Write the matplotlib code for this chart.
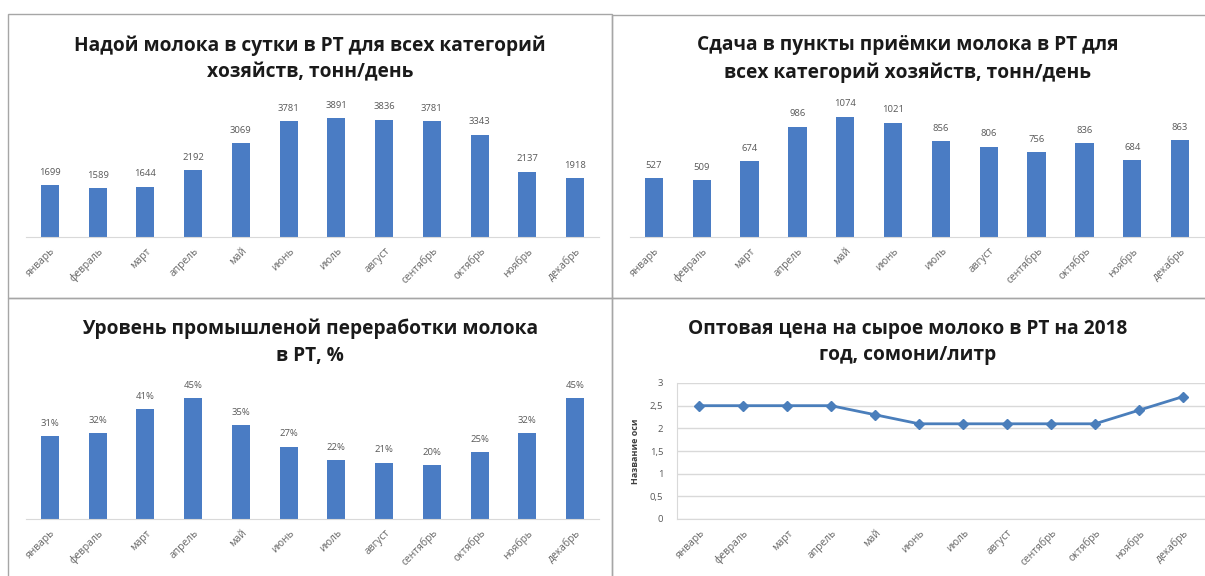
import matplotlib
matplotlib.use("Agg")
import matplotlib.pyplot as plt
from matplotlib.patches import Rectangle
from matplotlib.ticker import FuncFormatter
from matplotlib.transforms import ScaledTranslation

plt.rcParams['font.family'] = ['Open Sans', 'DejaVu Sans']

months = ['январь', 'февраль', 'март', 'апрель', 'май', 'июнь', 'июль',
          'август', 'сентябрь', 'октябрь', 'ноябрь', 'декабрь']
milk_yield = [1699, 1589, 1644, 2192, 3069, 3781, 3891, 3836, 3781, 3343, 2137, 1918]
milk_delivered = [527, 509, 674, 986, 1074, 1021, 856, 806, 756, 836, 684, 863]
processing_pct = [31, 32, 41, 45, 35, 27, 22, 21, 20, 25, 32, 45]
price = [2.5, 2.5, 2.5, 2.5, 2.3, 2.1, 2.1, 2.1, 2.1, 2.1, 2.4, 2.7]

titles = ['Надой молока в сутки в РТ для всех категорий\nхозяйств, тонн/день',
          'Сдача в пункты приёмки молока в РТ для\nвсех категорий хозяйств, тонн/день',
          'Уровень промышленой переработки молока\nв РТ, %',
          'Оптовая цена на сырое молоко в РТ на 2018\nгод, сомони/литр']

W, H = 1205, 576
BAR = '#4a7cc4'
GRID = '#d9d9d9'
TXT = '#595959'

fig = plt.figure(figsize=(W / 100, H / 100), dpi=100)


def px_axes(left, top, right, bottom):
    return fig.add_axes([left / W, 1 - bottom / H, (right - left) / W, (bottom - top) / H])


# panel frames
for (l, t, r, b) in [(8, 14, 612, 298), (612, 15, 1210, 298),
                     (8, 298, 612, 580), (612, 298, 1210, 580)]:
    fig.add_artist(Rectangle((l / W, 1 - b / H), (r - l) / W, (b - t) / H,
                             transform=fig.transFigure, fill=False,
                             edgecolor='#a6a6a6', linewidth=1.0))


def month_ticks(ax):
    x = range(len(months))
    ax.set_xticks(list(x))
    ax.set_xticklabels(months, rotation=45, ha='right', va='center',
                       rotation_mode='anchor', fontsize=7.4, color='#666666')
    ax.tick_params(axis='x', length=0, pad=9)
    off = ScaledTranslation(4 / 100, 0, fig.dpi_scale_trans)
    for lab in ax.get_xticklabels():
        lab.set_transform(lab.get_transform() + off)


def bar_panel(ax, values, ymax, fmt):
    bars = ax.bar(range(len(values)), values, width=0.38, color=BAR)
    ax.bar_label(bars, labels=[fmt % v for v in values], padding=6,
                 fontsize=6.8, color=TXT)
    ax.set_xlim(-0.5, len(values) - 0.5)
    ax.set_ylim(0, ymax)
    for s in ['top', 'right', 'left']:
        ax.spines[s].set_visible(False)
    ax.spines['bottom'].set_color(GRID)
    ax.set_yticks([])
    month_ticks(ax)


ax1 = px_axes(26, 107, 599, 237)
bar_panel(ax1, milk_yield, 4250, '%d')

ax2 = px_axes(630, 107, 1204, 237)
bar_panel(ax2, milk_delivered, 1160, '%d')

ax3 = px_axes(26, 385, 599, 519)
bar_panel(ax3, processing_pct, 50, '%d%%')

ax4 = px_axes(677, 383, 1205, 519)
x = range(len(price))
ax4.plot(list(x), price, color='#4a7ebb', linewidth=2.0, marker='D',
         markersize=5.5, clip_on=False)
ax4.set_xlim(-0.5, len(price) - 0.5)
ax4.set_ylim(0, 3)
ax4.set_yticks([0, 0.5, 1, 1.5, 2, 2.5, 3])
ax4.yaxis.set_major_formatter(FuncFormatter(lambda v, p: ('%g' % v).replace('.', ',')))
ax4.tick_params(axis='y', length=0, pad=10, labelsize=6.8, labelcolor=TXT)
ax4.grid(axis='y', color=GRID, linewidth=1)
ax4.set_axisbelow(True)
for s in ['top', 'right']:
    ax4.spines[s].set_visible(False)
ax4.spines['left'].set_color(GRID)
ax4.spines['bottom'].set_color(GRID)
ax4.set_ylabel('Название оси', fontsize=6.5, fontweight='bold', color='#404040', labelpad=7)
month_ticks(ax4)

# titles
title_pos = [(310, 59), (908, 59), (310, 342), (908, 342)]
for (cx, cy), t in zip(title_pos, titles):
    fig.text(cx / W, 1 - cy / H, t, ha='center', va='center', fontsize=13.8,
             fontweight='bold', color='#1a1a1a', linespacing=1.45)

fig.savefig('out.png', dpi=100, facecolor='white')
